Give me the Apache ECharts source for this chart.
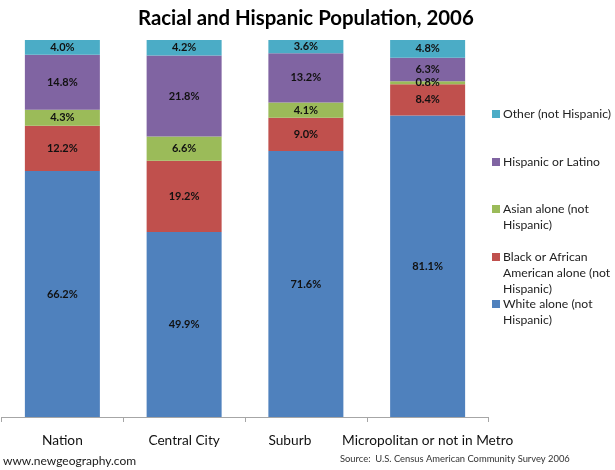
<!DOCTYPE html>
<html>
<head>
<meta charset="utf-8">
<title>Racial and Hispanic Population, 2006</title>
<script src="https://cdn.jsdelivr.net/npm/echarts@6/dist/echarts.min.js"></script>
<style>
html, body { margin: 0; padding: 0; background: #fff; }
#chart { width: 615px; height: 470px; }
</style>
</head>
<body>
<div id="chart"></div>
<script>
var categories = ['Nation', 'Central City', 'Suburb', 'Micropolitan or not in Metro'];
var whiteAlone = [66.2, 49.9, 71.6, 81.1];
var blackAlone = [12.2, 19.2, 9.0, 8.4];
var asianAlone = [4.3, 6.6, 4.1, 0.8];
var hispanic = [14.8, 21.8, 13.2, 6.3];
var other = [4.0, 4.2, 3.6, 4.8];

var seriesNames = ['White alone (not Hispanic)', 'Black or African American alone (not Hispanic)', 'Asian alone (not Hispanic)', 'Hispanic or Latino', 'Other (not Hispanic)'];
var legendLines = [
    ['White alone (not', 'Hispanic)'],
    ['Black or African', 'American alone (not', 'Hispanic)'],
    ['Asian alone (not', 'Hispanic)'],
    ['Hispanic or Latino'],
    ['Other (not Hispanic)']
];
var seriesValues = [whiteAlone, blackAlone, asianAlone, hispanic, other];
var colors = ['#4f81bd', '#c0504d', '#9bbb59', '#8064a2', '#4bacc6'];
var legendCenters = [304, 257, 209, 162, 114];

var fontName = 'Lato';
var legendLineHeight = 16;

// the published figures add up to a bit over 100, the bars are a 100% stack
function share(values, i) {
    var total = 0;
    seriesValues.forEach(function (s) { total += s[i]; });
    return values[i] / total * 100;
}

// legend centers the symbol on the text block, blank lines on top keep it beside the first line
function legendLabel(lines) {
    return new Array(lines.length).join('\n') + lines.join('\n');
}

var chart = echarts.init(document.getElementById('chart'));

chart.setOption({
    animation: false,
    textStyle: { fontFamily: fontName },
    title: [
        { text: 'Racial and Hispanic Population, 2006', left: 138, top: 8, padding: 0, textStyle: { fontFamily: fontName, fontSize: 20.4, fontWeight: 'bold', color: '#000' } },
        { text: 'www.newgeography.com', left: 3, top: 455, padding: 0, textStyle: { fontFamily: fontName, fontSize: 12, fontWeight: 'normal', color: '#1a1a1a' } },
        { text: 'Source:  U.S. Census American Community Survey 2006', left: 340, top: 454, padding: 0, textStyle: { fontFamily: fontName, fontSize: 9.4, fontWeight: 'normal', color: '#333' } }
    ],
    legend: seriesNames.map(function (name, i) {
        var n = legendLines[i].length;
        return {
            data: [name],
            left: 492,
            top: legendCenters[i] - (2 * n - 1) * legendLineHeight / 2,
            orient: 'vertical',
            itemWidth: 8,
            itemHeight: 8,
            itemGap: 0,
            icon: 'rect',
            padding: 0,
            selectedMode: false,
            formatter: function () { return legendLabel(legendLines[i]); },
            textStyle: { fontFamily: fontName, fontSize: 12.2, lineHeight: legendLineHeight, color: '#222', padding: [0, 0, 0, -2] }
        };
    }),
    grid: { left: 1.5, top: 40, width: 487, height: 377 },
    xAxis: {
        type: 'category',
        data: categories.map(function (c) {
            // the Suburb label sits left of its bar in the original
            return c === 'Suburb' ? { value: c, textStyle: { padding: [0, 32, 0, 0] } } : c;
        }),
        axisLine: { lineStyle: { color: '#a6a6a6', width: 1 } },
        axisTick: { show: true, alignWithLabel: false, length: 5, lineStyle: { color: '#a6a6a6', width: 1 } },
        axisLabel: { margin: 17, fontFamily: fontName, fontSize: 13.7, color: '#111', interval: 0, hideOverlap: false }
    },
    yAxis: { type: 'value', min: 0, max: 100, show: false, splitLine: { show: false } },
    series: seriesNames.map(function (name, k) {
        return {
            name: name,
            type: 'bar',
            stack: 'total',
            barWidth: 75,
            itemStyle: { color: colors[k] },
            label: {
                show: true,
                position: 'inside',
                fontFamily: fontName,
                fontSize: 11,
                fontWeight: 'bold',
                color: '#111',
                formatter: function (p) { return seriesValues[k][p.dataIndex].toFixed(1) + '%'; }
            },
            data: seriesValues[k].map(function (v, i) { return share(seriesValues[k], i); })
        };
    })
});
</script>
</body>
</html>
